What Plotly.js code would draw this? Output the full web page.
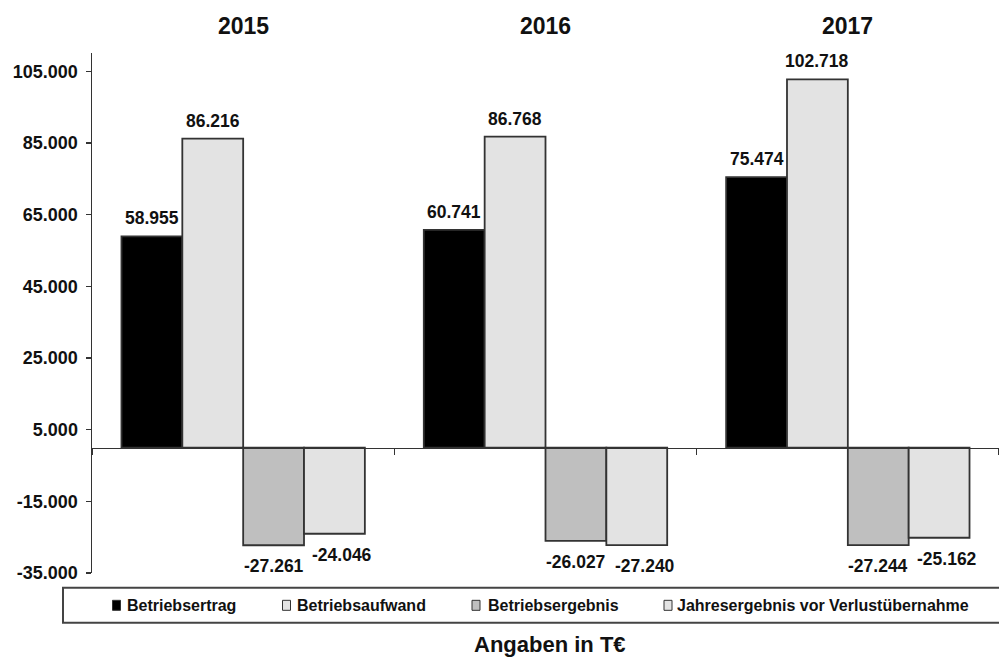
<!DOCTYPE html>
<html>
<head>
<meta charset="utf-8">
<script src="https://cdn.plot.ly/plotly-3.0.1.min.js"></script>
<style>html,body{margin:0;padding:0;background:#fff;}#chart{width:999px;height:657px;}</style>
</head>
<body>
<div id="chart"></div>
<script>
// ---- data ----
const years = ['2015', '2016', '2017'];
const seriesNames = ['Betriebsertrag', 'Betriebsaufwand', 'Betriebsergebnis', 'Jahresergebnis vor Verlustübernahme'];
const betriebsertrag = [58955, 60741, 75474];
const betriebsaufwand = [86216, 86768, 102718];
const betriebsergebnis = [-27261, -26027, -27244];
const jahresergebnis = [-24046, -27240, -25162];
const yTickVals = [-35000, -15000, 5000, 25000, 45000, 65000, 85000, 105000];
const yTickText = ['-35.000', '-15.000', '5.000', '25.000', '45.000', '65.000', '85.000', '105.000'];
const axisTitle = 'Angaben in T€';

// ---- style ----
const fills = ['#000000', '#e3e3e3', '#bfbfbf', '#e3e3e3'];
const edge = '#333333';
const FONT = 'Liberation Sans, Arial, sans-serif';
const W = 999, H = 657, ML = 92, MR = 0, MT = 53, MB = 84.3;
const PW = W - ML - MR, PH = H - MT - MB;
const Y0 = -35000, Y1 = 110100;
const BARGAP = 0.195;
const px2x = p => (p - ML) / PW;
const py2y = p => (H - MB - p) / PH;

const allSeries = [betriebsertrag, betriebsaufwand, betriebsergebnis, jahresergebnis];
const labelNudge = [0, 0, 0, 8];   // horizontal nudge of negative labels (px), as in the reference
const fmt = v => {
  const s = Math.abs(v).toString().replace(/\B(?=(\d{3})+(?!\d))/g, '.');
  return (v < 0 ? '-' : '') + s;
};

const traces = allSeries.map((vals, i) => ({
  type: 'bar',
  name: seriesNames[i],
  x: years,
  y: vals,
  marker: {color: fills[i], line: {color: edge, width: 1.8}},
  showlegend: false,
  hoverinfo: 'skip'
}));

const annotations = years.map((y, i) => ({
  x: i, xref: 'x', y: py2y(26), yref: 'paper',
  text: y, showarrow: false, xanchor: 'center', yanchor: 'middle',
  font: {family: FONT, size: 23, color: '#111', weight: 'bold'}
}));

// value labels, placed at each bar's end (bar offset within the group derived from layout)
const catPx = PW / years.length;
const barPx = catPx * (1 - BARGAP) / allSeries.length;
allSeries.forEach((vals, j) => {
  vals.forEach((v, i) => {
    annotations.push({
      x: i, xref: 'x', y: v, yref: 'y',
      xshift: (j - (allSeries.length - 1) / 2) * barPx + (v < 0 ? labelNudge[j] : 0),
      yshift: v >= 0 ? 6 : -9,
      text: fmt(v), showarrow: false, xanchor: 'center',
      yanchor: v >= 0 ? 'bottom' : 'top',
      font: {family: FONT, size: 17.5, color: '#111', weight: 'bold'}
    });
  });
});

annotations.push({
  x: px2x(549.5), xref: 'paper', y: py2y(644), yref: 'paper',
  text: axisTitle, showarrow: false, xanchor: 'center', yanchor: 'middle',
  font: {family: FONT, size: 22, color: '#111', weight: 'bold'}
});

// custom legend (box, swatches, labels)
const legendMarkerX = [112.5, 282.5, 472, 664];
const legendTextX = [125, 295, 486, 675];
const LEG_TOP = 587.5, LEG_BOT = 622.5, LEG_MID = 605;
const shapes = [{
  type: 'rect', xref: 'paper', yref: 'paper',
  x0: px2x(63), x1: px2x(1010), y0: py2y(LEG_TOP), y1: py2y(LEG_BOT),
  line: {color: '#444', width: 2}, fillcolor: 'rgba(0,0,0,0)'
}];
seriesNames.forEach((n, i) => {
  shapes.push({
    type: 'rect', xref: 'paper', yref: 'paper',
    x0: px2x(legendMarkerX[i]), x1: px2x(legendMarkerX[i] + 8),
    y0: py2y(LEG_MID - 5), y1: py2y(LEG_MID + 5),
    line: {color: edge, width: 1}, fillcolor: fills[i]
  });
  annotations.push({
    x: px2x(legendTextX[i]), xref: 'paper', y: py2y(LEG_MID), yref: 'paper',
    text: n, showarrow: false, xanchor: 'left', yanchor: 'middle',
    font: {family: FONT, size: 16, color: '#111', weight: 'bold'}
  });
});

const layout = {
  width: W, height: H,
  margin: {l: ML, r: MR, t: MT, b: MB, pad: 0},
  paper_bgcolor: '#fff', plot_bgcolor: '#fff',
  barmode: 'group', bargap: BARGAP, bargroupgap: 0,
  font: {family: FONT, color: '#111'},
  xaxis: {
    type: 'category', categoryorder: 'array', categoryarray: years,
    range: [-0.5, years.length - 0.5], autorange: false,
    anchor: 'free', position: (0 - Y0) / (Y1 - Y0),
    showline: true, linecolor: '#333', linewidth: 1.8,
    ticks: 'outside', tickson: 'boundaries', ticklen: 6, tickcolor: '#333', tickwidth: 1.5,
    showticklabels: false, showgrid: false, zeroline: false, fixedrange: true
  },
  yaxis: {
    range: [Y0, Y1], autorange: false, tickmode: 'array', tickvals: yTickVals, ticktext: yTickText,
    showline: true, linecolor: '#333', linewidth: 1.5,
    ticks: 'outside', ticklen: 5, tickcolor: '#333', tickwidth: 1.5, ticklabelstandoff: 4,
    tickfont: {family: FONT, size: 18, color: '#111', weight: 'bold'},
    showgrid: false, zeroline: false, fixedrange: true
  },
  annotations: annotations,
  shapes: shapes,
  showlegend: false
};

Plotly.newPlot('chart', traces, layout, {displayModeBar: false, staticPlot: true});
</script>
</body>
</html>
